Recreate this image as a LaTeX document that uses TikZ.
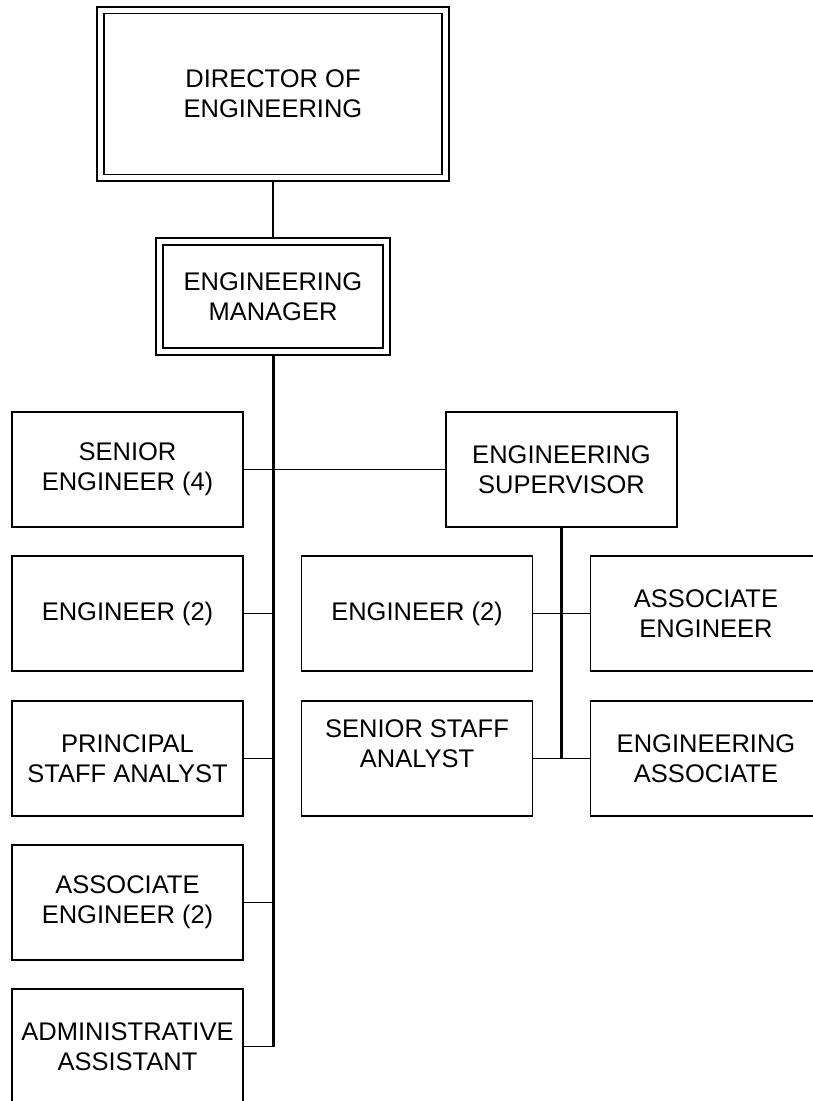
\documentclass[tikz,border=0pt]{standalone}
\usepackage{fontspec}
\setmainfont{Liberation Sans}
\usetikzlibrary{backgrounds}

\begin{document}
\begin{tikzpicture}[x=1pt,y=-1pt,
		post/.style={draw,line width=1.7pt,fill=white,minimum width=231pt,minimum height=115pt,inner sep=0pt,align=center,font=\fontsize{25.5}{30}\selectfont},
		head/.style={post,double,double distance=5pt},
		branch/.style={line width=1.7pt},
		trunk/.style={line width=3pt}]
		\useasboundingbox (0,0) rectangle (812,1101);
		\node[head,minimum width=345pt,minimum height=167.5pt] (director) at (273,94) {DIRECTOR OF\\ENGINEERING};
		\node[head,minimum width=227pt,minimum height=110pt] (manager) at (273,296.5) {ENGINEERING\\MANAGER};
		\node[post] (senior) at (127.5,469.5) {SENIOR\\ENGINEER (4)};
		\node[post] (engL) at (127.5,613.5) {ENGINEER (2)};
		\node[post] (psa) at (127.5,758.5) {PRINCIPAL\\STAFF ANALYST};
		\node[post] (assocL) at (127.5,902.5) {ASSOCIATE\\ENGINEER (2)};
		\node[post] (admin) at (127.5,1046.5) {ADMINISTRATIVE\\ASSISTANT};
		\node[post] (supervisor) at (561.5,469.5) {ENGINEERING\\SUPERVISOR};
		\node[post] (engR) at (417,613.5) {ENGINEER (2)};
		\node[post] (assocR) at (706,613.5) {ASSOCIATE\\ENGINEER};
		\node[post] (ssa) at (417,758.5) {SENIOR STAFF\\ANALYST\\\mbox{}};
		\node[post] (ea) at (706,758.5) {ENGINEERING\\ASSOCIATE};
		\begin{scope}[on background layer]
			\draw[branch] (director) -- (manager);
			\draw[trunk] (manager.south) -- (manager.south |- admin.east);
			\draw[branch] (senior) -- (supervisor);
			\foreach \n in {engL,psa,assocL,admin}
				\draw[branch] (\n.east) -- (manager.south |- \n.east);
			\draw[trunk] (supervisor.south) -- (supervisor.south |- ssa.east);
			\draw[branch] (engR) -- (assocR);
			\draw[branch] (ssa) -- (ea);
		\end{scope}
\end{tikzpicture}
\end{document}
